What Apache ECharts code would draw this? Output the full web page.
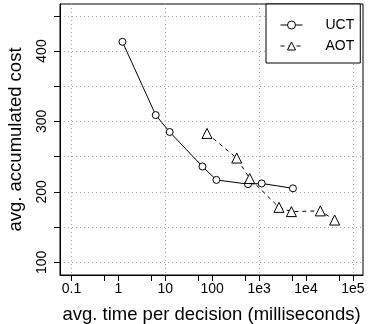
<!DOCTYPE html>
<html>
<head>
<meta charset="utf-8">
<script src="https://cdn.jsdelivr.net/npm/echarts@6/dist/echarts.min.js"></script>
<style>
  html, body { margin: 0; padding: 0; background: #fff; }
  #chart { width: 368px; height: 324px; }
</style>
</head>
<body>
<div id="chart"></div>
<script>
const uctTime = [1.22, 6.25, 12.4, 62, 123, 580, 1135, 5270];
const uctCost = [413, 309, 285, 236, 217, 211, 212, 205];
const aotTime = [77.5, 333, 630, 2655, 4875, 20200, 40800];
const aotCost = [283, 248, 219, 178, 172, 173, 160];

const xTickValues = [0.1, 0.5, 1, 5, 10, 50, 100, 500, 1000, 5000, 10000, 50000, 100000];
const xLabelValues = [0.1, 1, 10, 100, 1000, 10000, 100000];
const xLabelText = ['0.1', '1', '10', '100', '1e3', '1e4', '1e5'];
const xGridValues = [0.1, 10, 1000, 100000];
const yTickValues = [100, 150, 200, 250, 300, 350, 400, 450];
const yLabelValues = [100, 200, 300, 400];

const font = 'Liberation Sans, Arial, sans-serif';
const gridLine = { show: true, lineStyle: { color: '#aaa', type: [1, 3], width: 1 } };
const xMin = Math.pow(10, -1.245);
const xMax = Math.pow(10, 5.215);
const hollow = { color: '#fff', borderColor: '#000', borderWidth: 1 };

const chart = echarts.init(document.getElementById('chart'));
chart.setOption({
  animation: false,
  backgroundColor: '#fff',
  grid: {
    left: 60, top: 4, right: 5, bottom: 49,
    containLabel: false, outerBoundsMode: 'none',
    show: true, borderColor: '#000', borderWidth: 1
  },
  legend: {
    orient: 'vertical',
    left: 266, top: 4,
    padding: [14, 6, 10, 14],
    itemGap: 7,
    itemWidth: 22,
    itemHeight: 10,
    borderColor: '#000', borderWidth: 1, borderRadius: 0,
    backgroundColor: '#fff',
    itemStyle: hollow,
    lineStyle: { width: 1, color: '#000' },
    textStyle: { fontFamily: font, fontSize: 14, color: '#000', padding: [0, 0, 0, 18] },
    data: ['UCT', 'AOT']
  },
  xAxis: [{
    type: 'log', logBase: 10, min: xMin, max: xMax,
    name: 'avg. time per decision (milliseconds)',
    nameLocation: 'middle', nameGap: 30,
    nameTextStyle: { fontFamily: font, fontSize: 18.5, color: '#000' },
    axisLine: { show: true, onZero: false, lineStyle: { color: '#000' } },
    axisTick: { show: true, length: 6, customValues: xTickValues, lineStyle: { color: '#000' } },
    axisLabel: {
      margin: 7, fontFamily: font, fontSize: 14, color: '#000',
      customValues: xLabelValues,
      formatter: v => {
        const i = xLabelValues.findIndex(t => Math.abs(Math.log10(t) - Math.log10(v)) < 1e-6);
        return i >= 0 ? xLabelText[i] : '';
      }
    },
    splitLine: { show: false }
  }, {
    type: 'log', logBase: 10, min: xMin, max: xMax,
    gridIndex: 0, position: 'bottom',
    axisLine: { show: false },
    axisTick: { show: false, customValues: xGridValues },
    axisLabel: { show: false, customValues: xGridValues },
    splitLine: gridLine
  }],
  yAxis: {
    type: 'value', min: 82, max: 466.7,
    name: 'avg. accumulated cost',
    nameLocation: 'middle', nameGap: 35,
    nameTextStyle: { fontFamily: font, fontSize: 18.5, color: '#000' },
    axisLine: { show: true, lineStyle: { color: '#000' } },
    axisTick: { show: true, length: 6, customValues: yTickValues, lineStyle: { color: '#000' } },
    axisLabel: {
      rotate: 90, margin: 11, fontFamily: font, fontSize: 14, color: '#000',
      customValues: yLabelValues
    },
    splitLine: gridLine
  },
  series: [{
    name: 'UCT', type: 'line',
    data: uctTime.map((t, i) => [t, uctCost[i]]),
    symbol: 'circle', symbolSize: 7,
    itemStyle: hollow,
    lineStyle: { color: '#000', width: 1 }
  }, {
    name: 'AOT', type: 'line',
    data: aotTime.map((t, i) => [t, aotCost[i]]),
    symbol: 'triangle', symbolSize: 10,
    itemStyle: hollow,
    lineStyle: { color: '#000', width: 1, type: [4, 4] }
  }]
});
</script>
</body>
</html>
